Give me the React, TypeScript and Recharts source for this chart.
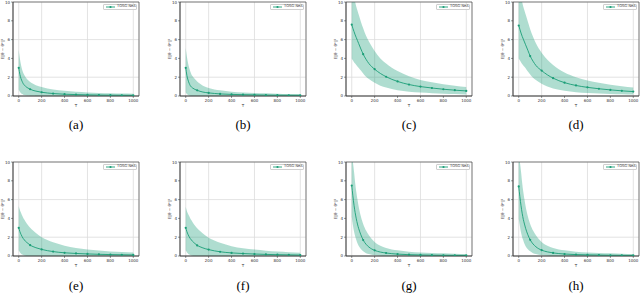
import { Area, CartesianGrid, ComposedChart, Line, ReferenceArea, XAxis, YAxis } from 'recharts'

// iteration grid (markers only every 100)
const T = [0, 10, 20, 30, 40, 50, 60, 80, 100, 125, 150, 200, 250, 300, 400, 500, 600, 700, 800, 900, 1000]
const xTicks = [0, 200, 400, 600, 800, 1000]
const yTicks = [0, 2, 4, 6, 8, 10]

const meanA = [3.0, 2.3, 1.85, 1.55, 1.3, 1.15, 1.02, 0.85, 0.72, 0.6, 0.52, 0.4, 0.32, 0.26, 0.19, 0.15, 0.12, 0.1, 0.09, 0.08, 0.07]
const hiA = [4.9, 4.0, 3.3, 2.8, 2.45, 2.2, 2.0, 1.7, 1.5, 1.3, 1.15, 0.95, 0.8, 0.7, 0.55, 0.45, 0.38, 0.33, 0.3, 0.27, 0.25]
const loA = [0.7, 0.45, 0.3, 0.2, 0.14, 0.1, 0.07, 0.04, 0.03, 0.02, 0.01, 0, 0, 0, 0, 0, 0, 0, 0, 0, 0]

const meanB = [3.0, 2.2, 1.7, 1.35, 1.1, 0.95, 0.85, 0.7, 0.6, 0.5, 0.42, 0.33, 0.27, 0.22, 0.17, 0.14, 0.12, 0.1, 0.09, 0.08, 0.07]
const hiB = [5.1, 4.2, 3.5, 3.0, 2.6, 2.3, 2.1, 1.8, 1.55, 1.3, 1.1, 0.85, 0.7, 0.6, 0.45, 0.38, 0.32, 0.28, 0.25, 0.22, 0.2]
const loB = [0.4, 0.2, 0.1, 0.05, 0.02, 0, 0, 0, 0, 0, 0, 0, 0, 0, 0, 0, 0, 0, 0, 0, 0]

const meanC = [7.6, 7.2, 6.85, 6.5, 6.2, 5.9, 5.6, 5.0, 4.45, 3.9, 3.45, 2.85, 2.4, 2.05, 1.55, 1.22, 1.0, 0.85, 0.72, 0.62, 0.54]
const hiC = [11.5, 11, 10.5, 10, 9.5, 9.1, 8.7, 7.9, 7.2, 6.4, 5.8, 4.8, 4.0, 3.45, 2.65, 2.1, 1.7, 1.45, 1.25, 1.1, 0.95]
const loC = [4.0, 3.8, 3.6, 3.45, 3.3, 3.15, 3.0, 2.7, 2.4, 2.05, 1.8, 1.4, 1.1, 0.9, 0.6, 0.45, 0.37, 0.3, 0.25, 0.2, 0.17]

const meanD = [7.5, 7.1, 6.7, 6.35, 6.05, 5.75, 5.45, 4.85, 4.25, 3.7, 3.25, 2.7, 2.25, 1.9, 1.42, 1.12, 0.92, 0.77, 0.65, 0.55, 0.47]
const hiD = [11.5, 11, 10.5, 10, 9.5, 9.1, 8.7, 7.9, 7.1, 6.3, 5.6, 4.6, 3.85, 3.3, 2.5, 2.0, 1.65, 1.4, 1.2, 1.05, 0.9]
const loD = [4.0, 3.8, 3.6, 3.4, 3.25, 3.1, 2.95, 2.6, 2.3, 1.95, 1.7, 1.3, 1.0, 0.8, 0.55, 0.4, 0.32, 0.26, 0.22, 0.18, 0.15]

const meanE = [3.0, 2.6, 2.3, 2.05, 1.85, 1.7, 1.55, 1.35, 1.15, 1.0, 0.88, 0.7, 0.57, 0.47, 0.34, 0.27, 0.22, 0.18, 0.15, 0.13, 0.11]
const hiE = [5.3, 4.9, 4.6, 4.3, 4.05, 3.85, 3.65, 3.3, 3.0, 2.7, 2.45, 2.0, 1.7, 1.45, 1.1, 0.85, 0.7, 0.58, 0.48, 0.42, 0.36]
const loE = [0.6, 0.4, 0.25, 0.15, 0.1, 0.05, 0.02, 0, 0, 0, 0, 0, 0, 0, 0, 0, 0, 0, 0, 0, 0]

const meanF = [3.0, 2.6, 2.3, 2.05, 1.85, 1.7, 1.55, 1.33, 1.13, 0.98, 0.86, 0.68, 0.55, 0.45, 0.33, 0.26, 0.21, 0.17, 0.14, 0.12, 0.1]
const hiF = [5.2, 4.8, 4.5, 4.25, 4.0, 3.8, 3.6, 3.25, 2.95, 2.65, 2.4, 1.95, 1.65, 1.4, 1.05, 0.82, 0.68, 0.56, 0.47, 0.4, 0.35]
const loF = [0.6, 0.4, 0.25, 0.15, 0.1, 0.05, 0.02, 0, 0, 0, 0, 0, 0, 0, 0, 0, 0, 0, 0, 0, 0]

const meanG = [7.5, 6.4, 5.4, 4.6, 3.95, 3.4, 2.95, 2.25, 1.7, 1.25, 0.95, 0.6, 0.42, 0.32, 0.2, 0.14, 0.11, 0.09, 0.08, 0.07, 0.06]
const hiG = [11, 10, 9, 7.8, 6.8, 6.0, 5.3, 4.2, 3.4, 2.7, 2.2, 1.5, 1.1, 0.85, 0.6, 0.45, 0.38, 0.32, 0.28, 0.25, 0.22]
const loG = [4.2, 3.3, 2.6, 2.1, 1.7, 1.35, 1.1, 0.75, 0.5, 0.3, 0.2, 0.08, 0.03, 0, 0, 0, 0, 0, 0, 0, 0]

const meanH = [7.4, 6.3, 5.35, 4.55, 3.9, 3.4, 2.95, 2.25, 1.72, 1.28, 0.98, 0.62, 0.44, 0.33, 0.21, 0.15, 0.12, 0.1, 0.08, 0.07, 0.06]
const hiH = [11, 10, 9, 7.8, 6.8, 6.0, 5.3, 4.2, 3.4, 2.7, 2.2, 1.5, 1.1, 0.85, 0.6, 0.45, 0.38, 0.32, 0.28, 0.25, 0.22]
const loH = [4.0, 3.2, 2.5, 2.0, 1.65, 1.3, 1.05, 0.72, 0.5, 0.3, 0.2, 0.08, 0.03, 0, 0, 0, 0, 0, 0, 0, 0]

const labels = ['(a)', '(b)', '(c)', '(d)', '(e)', '(f)', '(g)', '(h)']
const means = [meanA, meanB, meanC, meanD, meanE, meanF, meanG, meanH]
const his = [hiA, hiB, hiC, hiD, hiE, hiF, hiG, hiH]
const los = [loA, loB, loC, loD, loE, loF, loG, loH]

const plotLefts = [13, 180, 346, 513]
const plotTops = [2, 162]
const COLOR = '#1b9e77'
const PLOT_W = 126
const PLOT_H = 94
const small = { fontSize: 4, fill: '#333', fontFamily: 'DejaVu Sans' }

function Marker(props: any) {
  const { cx, cy, payload } = props
  if (payload.T % 100 !== 0) return null
  return <circle key={payload.T} cx={cx} cy={cy} r={1.1} fill={COLOR} />
}

function Panel({ idx }: { idx: number }) {
  const col = idx % 4
  const row = Math.floor(idx / 4)
  const plotLeft = plotLefts[col]
  const plotTop = plotTops[row]
  const data = T.map((t, i) => ({ T: t, mean: means[idx][i], band: [los[idx][i], his[idx][i]] }))

  return (
    <>
      <div style={{ position: 'absolute', left: plotLeft - 13, top: plotTop - 2 }}>
        <ComposedChart
          width={13 + PLOT_W + 1}
          height={2 + PLOT_H + 14}
          data={data}
          margin={{ top: 2, right: 1, bottom: 2, left: 4 }}
        >
          <CartesianGrid stroke="#dcdcdc" strokeWidth={0.8} />
          <XAxis
            dataKey="T"
            type="number"
            domain={[-50, 1050]}
            ticks={xTicks}
            height={12}
            tickSize={2}
            tickMargin={1}
            tick={small}
            axisLine={{ stroke: '#333', strokeWidth: 0.6 }}
            tickLine={{ stroke: '#333', strokeWidth: 0.5 }}
            label={{ value: 'T', position: 'insideBottom', offset: 1, ...small, style: { fill: '#333' } }}
          />
          <YAxis
            type="number"
            domain={[0, 10]}
            allowDataOverflow
            ticks={yTicks}
            width={9}
            tickSize={2}
            tickMargin={1}
            tick={small}
            axisLine={{ stroke: '#333', strokeWidth: 0.6 }}
            tickLine={{ stroke: '#333', strokeWidth: 0.5 }}
            label={{
              value: 'E‖θ − θ*‖²',
              angle: -90,
              position: 'insideLeft',
              offset: -1,
              ...small,
              style: { textAnchor: 'middle', fill: '#333' },
            }}
          />
          <Area
            dataKey="band"
            type="monotone"
            stroke="none"
            fill={COLOR}
            fillOpacity={0.35}
            isAnimationActive={false}
          />
          <Line
            dataKey="mean"
            type="monotone"
            stroke={COLOR}
            strokeWidth={0.9}
            dot={Marker}
            activeDot={false}
            isAnimationActive={false}
          />
          <ReferenceArea x1={-50} x2={1050} y1={0} y2={10} fill="none" stroke="#333" strokeWidth={0.6} ifOverflow="visible" />
        </ComposedChart>
      </div>
      <div
        style={{
          position: 'absolute',
          left: plotLeft + PLOT_W - 36,
          top: plotTop + 1.5,
          width: 34,
          height: 6,
          border: '0.5px solid #cfcfcf',
          borderRadius: 1,
          background: 'rgba(255,255,255,0.85)',
          display: 'flex',
          alignItems: 'center',
          boxSizing: 'border-box',
          paddingLeft: 2,
        }}
      >
        <svg width={9} height={4} style={{ display: 'block' }}>
          <line x1={0} y1={2} x2={9} y2={2} stroke={COLOR} strokeWidth={0.9} />
          <circle cx={4.5} cy={2} r={1.1} fill={COLOR} />
        </svg>
        <span style={{ fontFamily: 'DejaVu Sans', fontSize: 3.6, color: '#333', marginLeft: 2, lineHeight: 1 }}>
          TOSG-NeA
        </span>
      </div>
      <div
        style={{
          position: 'absolute',
          left: plotLeft + PLOT_W / 2 - 20,
          top: plotTop + (row === 0 ? 116 : 117),
          width: 40,
          textAlign: 'center',
          fontFamily: '"Liberation Serif", "Times New Roman", serif',
          fontSize: 13,
          lineHeight: 1,
          color: '#000',
        }}
      >
        {labels[idx]}
      </div>
    </>
  )
}

export default function App() {
  return (
    <div style={{ position: 'absolute', left: 0, top: 0, width: 640, height: 293, background: '#fff', overflow: 'hidden' }}>
      {labels.map((_, i) => (
        <Panel key={i} idx={i} />
      ))}
    </div>
  )
}
